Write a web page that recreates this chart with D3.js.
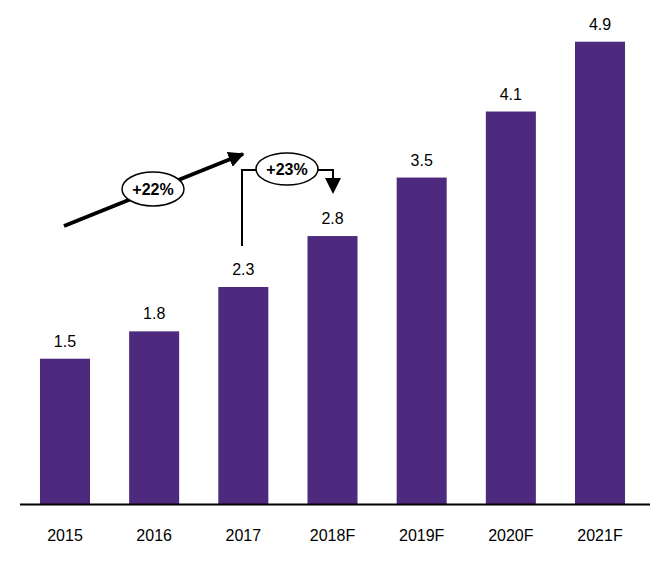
<!DOCTYPE html>
<html><head><meta charset="utf-8">
<script src="https://cdn.jsdelivr.net/npm/d3@7"></script>
<style>body{margin:0;background:#fff}svg{display:block}text{font-family:Arial,"Liberation Sans",sans-serif}</style>
</head><body>
<script>
const categories = ["2015","2016","2017","2018F","2019F","2020F","2021F"];
const values = [1.54,1.83,2.3,2.84,3.46,4.16,4.9];
const labels = ["1.5","1.8","2.3","2.8","3.5","4.1","4.9"];

const W=663,H=566;
const svg=d3.select("body").append("svg").attr("width",W).attr("height",H);
const x=d3.scaleBand().domain(categories).range([20,645]).paddingInner(0.439).paddingOuter(0.224);
const y=d3.scaleLinear().domain([0,4.9]).range([504,41.7]);

svg.selectAll("rect.bar").data(values).join("rect").attr("class","bar")
  .attr("x",(d,i)=>x(categories[i])).attr("width",x.bandwidth())
  .attr("y",d=>y(d)).attr("height",d=>y(0)-y(d)).attr("fill","#4E2A7E");

svg.selectAll("text.val").data(values).join("text").attr("class","val")
  .attr("x",(d,i)=>x(categories[i])+x.bandwidth()/2).attr("y",d=>y(d)-12)
  .attr("text-anchor","middle").attr("font-size",16).attr("fill","#000")
  .text((d,i)=>labels[i]);

const axis=d3.axisBottom(x).tickSize(0).tickPadding(26);
const g=svg.append("g").attr("transform",`translate(0,${y(0)})`).call(axis);
g.select(".domain").attr("stroke","#000").attr("stroke-width",2).attr("d","M20,0.5H650");
g.selectAll("text").attr("font-size",16).attr("fill","#000").style("font-family","Arial, 'Liberation Sans', sans-serif");

// annotations
const defs=svg.append("defs");
defs.append("marker").attr("id","ah1").attr("viewBox","0 0 10 10").attr("refX",9).attr("refY",5)
 .attr("markerWidth",4).attr("markerHeight",4).attr("markerUnits","strokeWidth").attr("orient","auto")
 .append("path").attr("d","M0,0L10,5L0,10Z").attr("fill","#000");

svg.append("line").attr("x1",64).attr("y1",226).attr("x2",243).attr("y2",154)
  .attr("stroke","#000").attr("stroke-width",4).attr("marker-end","url(#ah1)");
svg.append("ellipse").attr("cx",153).attr("cy",189).attr("rx",31).attr("ry",17)
  .attr("fill","#fff").attr("stroke","#000").attr("stroke-width",1.5);
svg.append("text").attr("x",153).attr("y",195).attr("text-anchor","middle")
  .attr("font-size",16).attr("font-weight","bold").text("+22%");

svg.append("path").attr("d","M242,246V170H333V180").attr("fill","none").attr("stroke","#000").attr("stroke-width",2);
svg.append("path").attr("d","M325,178L341,178L333,194Z").attr("fill","#000");
svg.append("ellipse").attr("cx",287).attr("cy",169).attr("rx",31).attr("ry",16)
  .attr("fill","#fff").attr("stroke","#000").attr("stroke-width",1.5);
svg.append("text").attr("x",287).attr("y",175).attr("text-anchor","middle")
  .attr("font-size",16).attr("font-weight","bold").text("+23%");
</script>
</body></html>
